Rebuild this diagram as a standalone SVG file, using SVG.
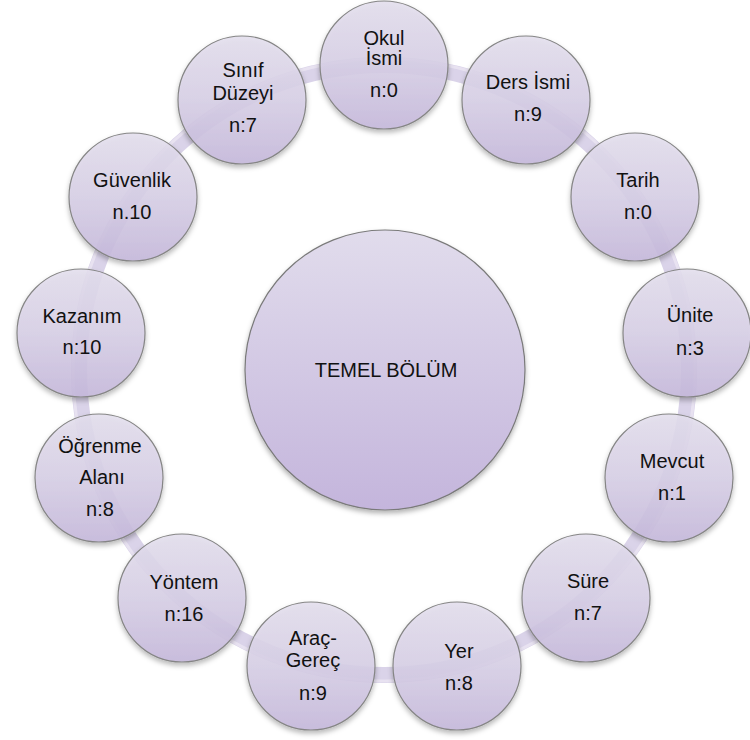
<svg xmlns="http://www.w3.org/2000/svg" width="750" height="740" viewBox="0 0 750 740">
<defs>
<linearGradient id="gNode" x1="0" y1="0" x2="0" y2="1">
<stop offset="0" stop-color="#e4dfee"/>
<stop offset="0.5" stop-color="#d8d0e7"/>
<stop offset="1" stop-color="#c6b9dc"/>
</linearGradient>
<linearGradient id="gCenter" x1="0" y1="0" x2="0" y2="1">
<stop offset="0" stop-color="#e1dcec"/>
<stop offset="1" stop-color="#c4b5dc"/>
</linearGradient>
<filter id="sh" x="-20%" y="-20%" width="140%" height="150%">
<feDropShadow dx="0" dy="3" stdDeviation="2.5" flood-color="#000" flood-opacity="0.3"/>
</filter>
</defs>
<style>
.n{fill:url(#gNode);fill-opacity:0.88;stroke:#858585;stroke-width:1.2;filter:url(#sh)}
.c{fill:url(#gCenter);stroke:#7a7a7a;stroke-width:1.2;filter:url(#sh)}
text{font-family:"Liberation Sans",Arial,sans-serif;font-size:20px;fill:#111;text-anchor:middle}
.big{font-size:20px}
</style>
<g id="connectors">
<circle cx="384" cy="370" r="305" fill="none" stroke="#d4cbe5" stroke-width="16" stroke-opacity="0.85"/>
<circle cx="384" cy="370" r="311" fill="none" stroke="#ebe6f3" stroke-width="3" stroke-opacity="0.8"/>
</g>
<g id="center">
<circle class="c" cx="385" cy="370" r="140"/>
<text class="big" x="386" y="377">TEMEL BÖLÜM</text>
</g>
<g id="n0"><circle class="n" cx="384" cy="65" r="64"/><text x="384" y="45">Okul</text><text x="384" y="65">İsmi</text><text x="384" y="97">n:0</text></g>
<g id="n1"><circle class="n" cx="526" cy="100" r="64"/><text x="528" y="89">Ders İsmi</text><text x="528" y="121">n:9</text></g>
<g id="n2"><circle class="n" cx="635" cy="197" r="64"/><text x="638" y="187">Tarih</text><text x="638" y="219">n:0</text></g>
<g id="n3"><circle class="n" cx="687" cy="333" r="64"/><text x="690" y="322">Ünite</text><text x="690" y="355">n:3</text></g>
<g id="n4"><circle class="n" cx="669" cy="478" r="64"/><text x="672" y="468">Mevcut</text><text x="672" y="500">n:1</text></g>
<g id="n5"><circle class="n" cx="586" cy="598" r="64"/><text x="588" y="588">Süre</text><text x="588" y="620">n:7</text></g>
<g id="n6"><circle class="n" cx="457" cy="666" r="64"/><text x="459" y="658">Yer</text><text x="459" y="690">n:8</text></g>
<g id="n7"><circle class="n" cx="311" cy="666" r="64"/><text x="313" y="645">Araç-</text><text x="313" y="667">Gereç</text><text x="313" y="700">n:9</text></g>
<g id="n8"><circle class="n" cx="182" cy="598" r="64"/><text x="184" y="589">Yöntem</text><text x="184" y="621">n:16</text></g>
<g id="n9"><circle class="n" cx="99" cy="478" r="64"/><text x="100" y="453">Öğrenme</text><text x="102" y="484">Alanı</text><text x="100" y="516">n:8</text></g>
<g id="n10"><circle class="n" cx="81" cy="333" r="64"/><text x="82" y="323">Kazanım</text><text x="82" y="354">n:10</text></g>
<g id="n11"><circle class="n" cx="133" cy="197" r="64"/><text x="132" y="187">Güvenlik</text><text x="132" y="219">n.10</text></g>
<g id="n12"><circle class="n" cx="242" cy="100" r="64"/><text x="243" y="77">Sınıf</text><text x="243" y="100">Düzeyi</text><text x="243" y="132">n:7</text></g>
</svg>
